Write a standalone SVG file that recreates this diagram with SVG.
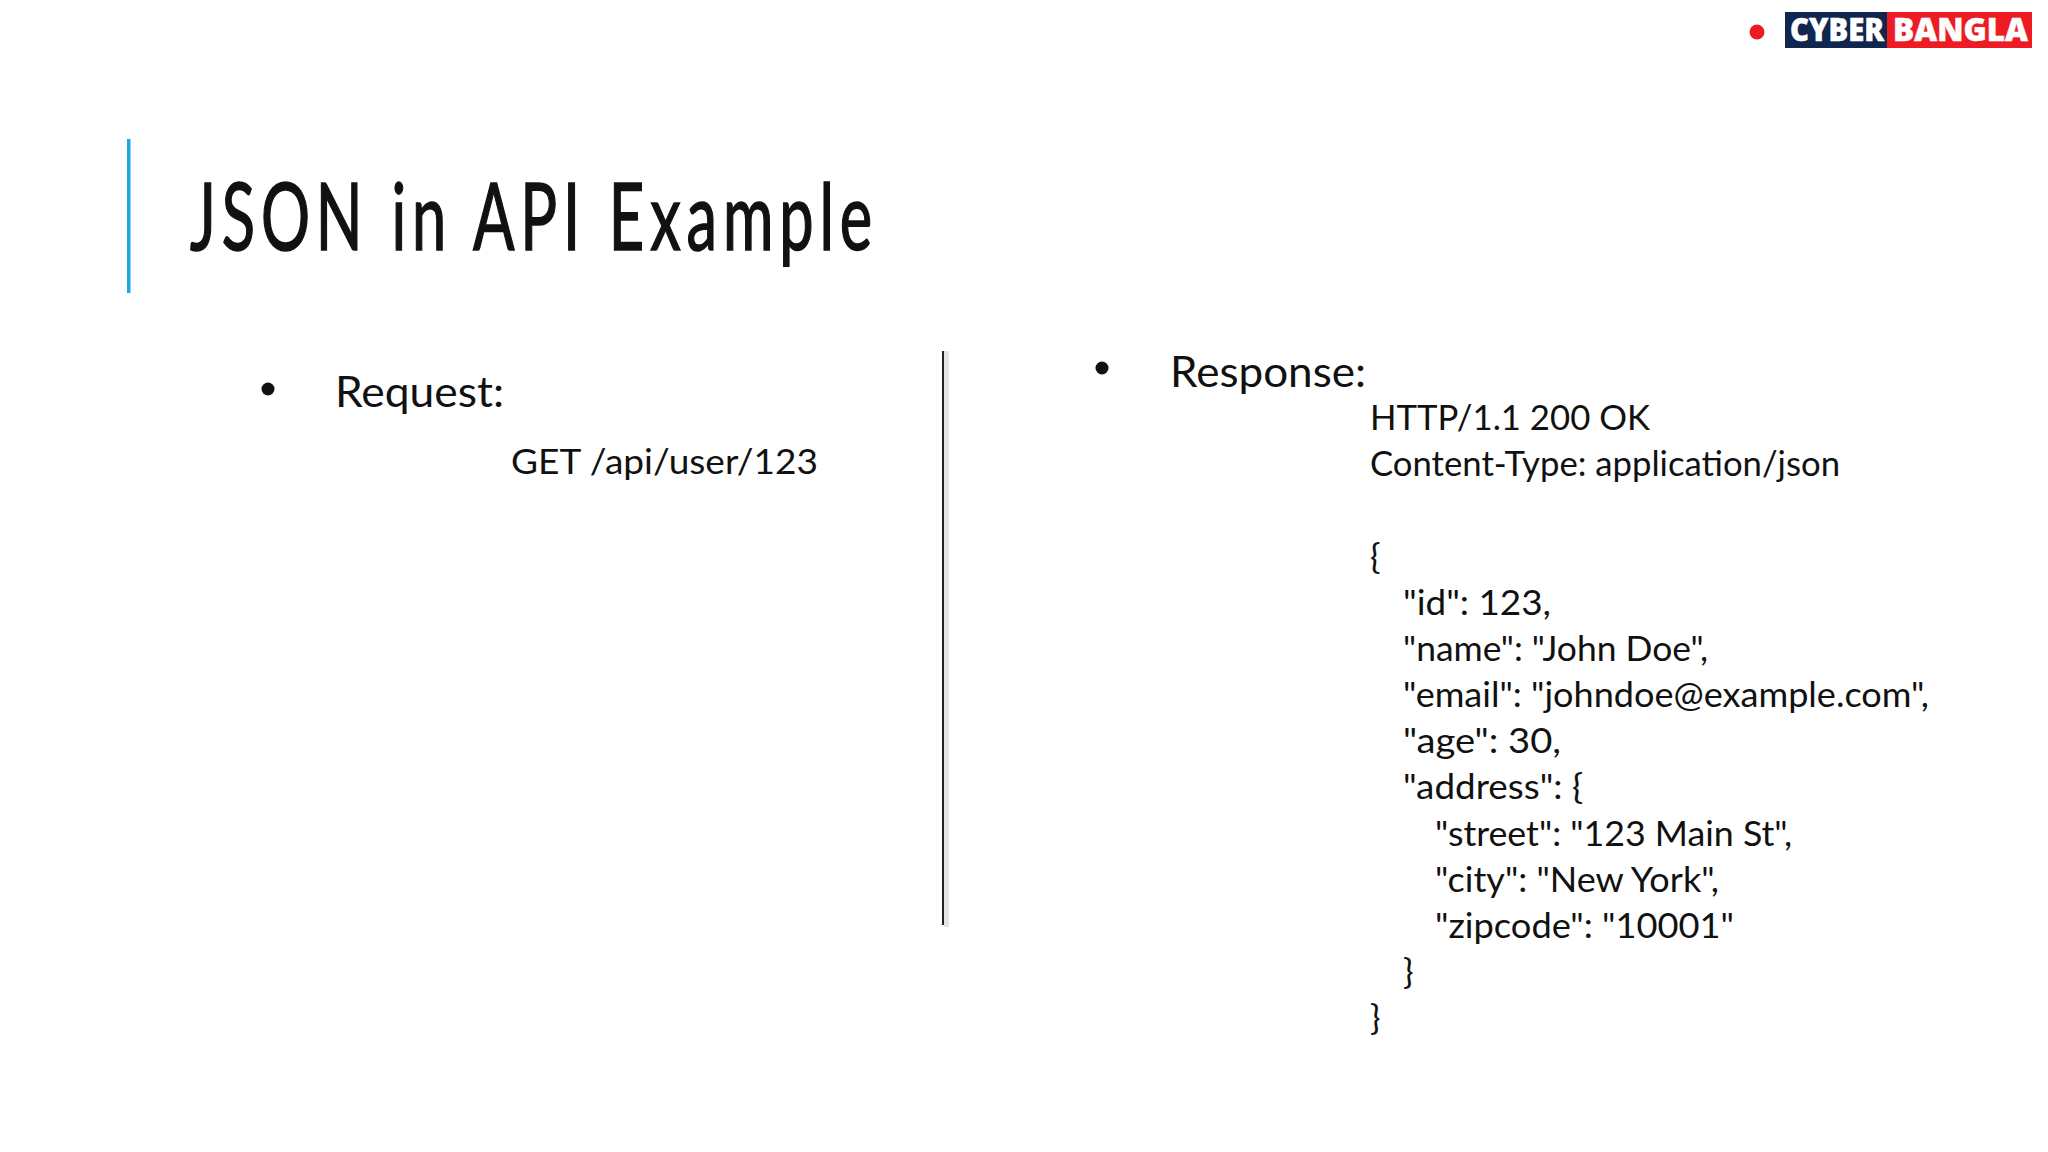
<svg xmlns="http://www.w3.org/2000/svg" width="2048" height="1152" viewBox="0 0 2048 1152">
<style>
text{font-family:"Lato","Liberation Sans",sans-serif;fill:#111}
.t{font-size:94px;letter-spacing:9px;word-spacing:2px;stroke:#111;stroke-width:1.6px}
.h{font-size:43px}
.b{font-size:35px}
.l{font-family:"Open Sans","Liberation Sans",sans-serif;font-weight:800;font-size:31px;fill:#fff;stroke:#fff;stroke-width:.5px}
</style>
<rect width="2048" height="1152" fill="#fff"/>
<g id="logo">
<circle cx="1757" cy="32" r="7.5" fill="#ea1c24"/>
<rect x="1785" y="12" width="102" height="36" fill="#10264f"/>
<rect x="1887" y="12" width="145" height="36" fill="#ed1c24"/>
<text class="l" x="1790" y="41" textLength="94" lengthAdjust="spacingAndGlyphs">CYBER</text>
<text class="l" x="1893" y="41" textLength="135" lengthAdjust="spacingAndGlyphs">BANGLA</text>
</g>
<g id="title">
<rect x="127" y="139" width="3.5" height="154" fill="#1fa8e0"/>
<text class="t" x="190" y="250" textLength="688" lengthAdjust="spacingAndGlyphs">JSON in API Example</text>
</g>
<g id="divider">
<rect x="944" y="351" width="5" height="576" fill="#e6e6e6"/>
<rect x="942" y="351" width="2" height="574" fill="#222"/>
</g>
<g id="request">
<circle cx="268" cy="389" r="6.5" fill="#111"/>
<text class="h" x="335" y="407" textLength="169" lengthAdjust="spacingAndGlyphs">Request:</text>
<text class="b" x="511" y="474" textLength="307" lengthAdjust="spacingAndGlyphs">GET /api/user/123</text>
</g>
<g id="response">
<circle cx="1102" cy="368" r="6.5" fill="#111"/>
<text class="h" x="1170" y="387" textLength="196" lengthAdjust="spacingAndGlyphs">Response:</text>
<text class="b" x="1370" y="430" textLength="280" lengthAdjust="spacingAndGlyphs">HTTP/1.1 200 OK</text>
<text class="b" x="1370" y="476" textLength="470" lengthAdjust="spacingAndGlyphs">Content-Type: application/json</text>
<text class="b" x="1370" y="568.5">{</text>
<text class="b" x="1403" y="615" textLength="148" lengthAdjust="spacingAndGlyphs">"id": 123,</text>
<text class="b" x="1403" y="661" textLength="305" lengthAdjust="spacingAndGlyphs">"name": "John Doe",</text>
<text class="b" x="1403" y="707" textLength="526" lengthAdjust="spacingAndGlyphs">"email": "johndoe@example.com",</text>
<text class="b" x="1403" y="753" textLength="158" lengthAdjust="spacingAndGlyphs">"age": 30,</text>
<text class="b" x="1403" y="799" textLength="180" lengthAdjust="spacingAndGlyphs">"address": {</text>
<text class="b" x="1435" y="845.5" textLength="357" lengthAdjust="spacingAndGlyphs">"street": "123 Main St",</text>
<text class="b" x="1435" y="891.5" textLength="284" lengthAdjust="spacingAndGlyphs">"city": "New York",</text>
<text class="b" x="1435" y="937.5" textLength="299" lengthAdjust="spacingAndGlyphs">"zipcode": "10001"</text>
<text class="b" x="1403" y="984">}</text>
<text class="b" x="1370" y="1030">}</text>
</g>
</svg>
